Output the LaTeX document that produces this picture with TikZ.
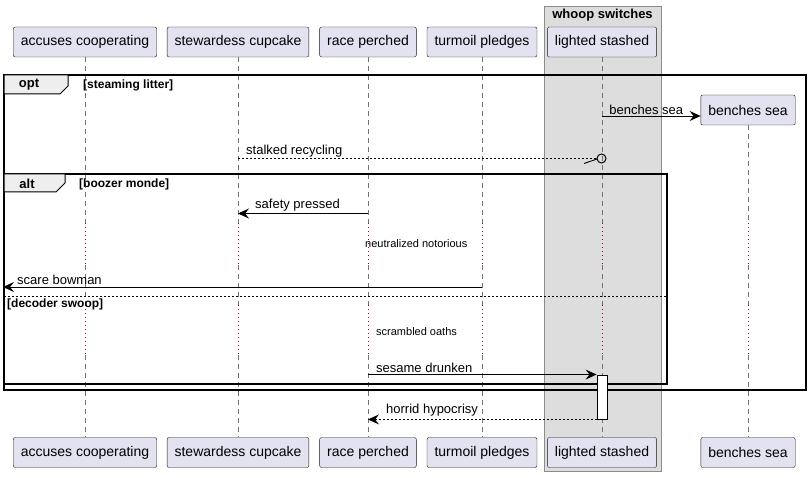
\documentclass[tikz,border=0pt]{standalone}
\usepackage{fontspec}
\setmainfont{Liberation Sans}
\usetikzlibrary{arrows.meta, positioning}

\definecolor{partfill}{HTML}{E2E2F0}
\definecolor{partdraw}{HTML}{181818}
\definecolor{boxfill}{HTML}{DDDDDD}
\definecolor{tabfill}{HTML}{EEEEEE}
\definecolor{delayred}{HTML}{A80036}

\begin{document}
\begin{tikzpicture}[
            x=1pt, y=-1pt,
            participant/.style={draw=partdraw, fill=partfill, rounded corners=2pt, minimum height=30pt, inner xsep=7.5pt, font=\fontsize{14}{16}\selectfont},
            lifeline/.style={draw=black!55, line width=0.6pt, dash pattern=on 5pt off 4pt},
            delayline/.style={draw=delayred, line width=1pt, dash pattern=on 1pt off 3pt},
            frame/.style={draw=black, line width=1.6pt},
            tab/.style={draw=black, line width=1pt, fill=tabfill},
            msg/.style={draw=black, line width=0.9pt, -{Stealth[length=11pt, width=10pt, inset=4pt]}},
            reply/.style={msg, dash pattern=on 2pt off 2pt},
            msglabel/.style={anchor=south west, inner sep=1pt, font=\fontsize{13}{15}\selectfont},
            delaylabel/.style={anchor=west, inner sep=0pt, font=\fontsize{11}{13}\selectfont},
            guard/.style={anchor=west, inner sep=0pt, font=\fontsize{12}{14}\selectfont\bfseries},
            activation/.style={draw=black, fill=white, line width=0.9pt, minimum width=10pt, minimum height=44pt, inner sep=0pt}
        ]
            \useasboundingbox (0,0) rectangle (810,478);

            % Box round lighted stashed
            \filldraw[fill=boxfill, draw=black!45, line width=0.8pt] (544,6) rectangle (661,471);
            \node[font=\fontsize{13}{15}\selectfont\bfseries] (whoop) at (602.5,15) {whoop switches};

            % Participants, top and bottom
            \node[participant] (acc) at (85,42) {accuses cooperating};
            \node[participant] (stew) at (238,42) {stewardess cupcake};
            \node[participant] (race) at (368,42) {race perched};
            \node[participant] (turm) at (482,42) {turmoil pledges};
            \node[participant] (light) at (602,42) {lighted stashed};
            \node[participant] (bench) at (748,110) {benches sea};

            \node[participant] (accB) at (85,452.5) {accuses cooperating};
            \node[participant] (stewB) at (238,452.5) {stewardess cupcake};
            \node[participant] (raceB) at (368,452.5) {race perched};
            \node[participant] (turmB) at (482,452.5) {turmoil pledges};
            \node[participant] (lightB) at (602,452.5) {lighted stashed};
            \node[participant] (benchB) at (748,452.5) {benches sea};

            % Lifelines with the two delays
            \foreach \p in {acc, stew, race, turm, light, bench} {
                \draw[lifeline] (\p.south) -- (\p |- 0,223);
                \draw[delayline] (\p |- 0,223) -- (\p |- 0,265);
                \draw[lifeline] (\p |- 0,265) -- (\p |- 0,305);
                \draw[delayline] (\p |- 0,305) -- (\p |- 0,355);
                \draw[lifeline] (\p |- 0,355) -- (\p B.north);
            }

            % opt frame
            \draw[frame] (4,75) rectangle (806,390);
            \draw[tab] (4,75) -- (68,75) -- (68,86) -- (60,94) -- (4,94) -- cycle;
            \node[font=\fontsize{13}{15}\selectfont\bfseries] (optname) at (29,85) {opt};
            \node[guard] (optguard) at (83,85) {[steaming litter]};

            % alt frame
            \draw[frame] (4,174) rectangle (667,384);
            \draw[tab] (4,174) -- (65,174) -- (65,183) -- (56,192) -- (4,192) -- cycle;
            \node[font=\fontsize{13}{15}\selectfont\bfseries] (altname) at (27,183.5) {alt};
            \node[guard] (altguard) at (79,184) {[boozer monde]};
            \draw[line width=0.7pt, dash pattern=on 2pt off 2pt] (4,296.5) -- (667,296.5);
            \node[guard] (elseguard) at (7,304) {[decoder swoop]};

            % Messages
            \draw[msg] (light |- 0,116) -- (bench.west |- 0,116)
                node[msglabel, pos=0, xshift=6pt] (benchmsg) {benches sea};

            \draw[line width=0.7pt, dash pattern=on 2pt off 2pt] (stew |- 0,158.5) -- (597,158.5);
            \draw[line width=1pt] (601.5,158.5) circle (4.5pt);
            \draw[line width=0.9pt] (597,159) -- (584,163.5);
            \node[msglabel] (recyc) at (245,158) {stalked recycling};

            \draw[msg] (race |- 0,213.5) -- (stew |- 0,213.5);
            \node[msglabel] (safety) at (254,212) {safety pressed};

            \node[delaylabel] (neutral) at (365,243.5) {neutralized notorious};

            \coordinate (leftedge) at (3,287);
            \draw[msg] (turm |- leftedge) -- (leftedge);
            \node[msglabel] (scare) at (16,286) {scare bowman};

            \node[delaylabel] (scram) at (376,332) {scrambled oaths};

            \node[activation] (act) at (602,397) {};
            \draw[msg] (race |- act.north) -- (act.north west);
            \node[msglabel] (sesame) at (375,373.5) {sesame drunken};

            \draw[reply] (act.south west) -- (race |- act.south);
            \node[msglabel] (horrid) at (385,417.5) {horrid hypocrisy};

        \end{tikzpicture}
\end{document}
